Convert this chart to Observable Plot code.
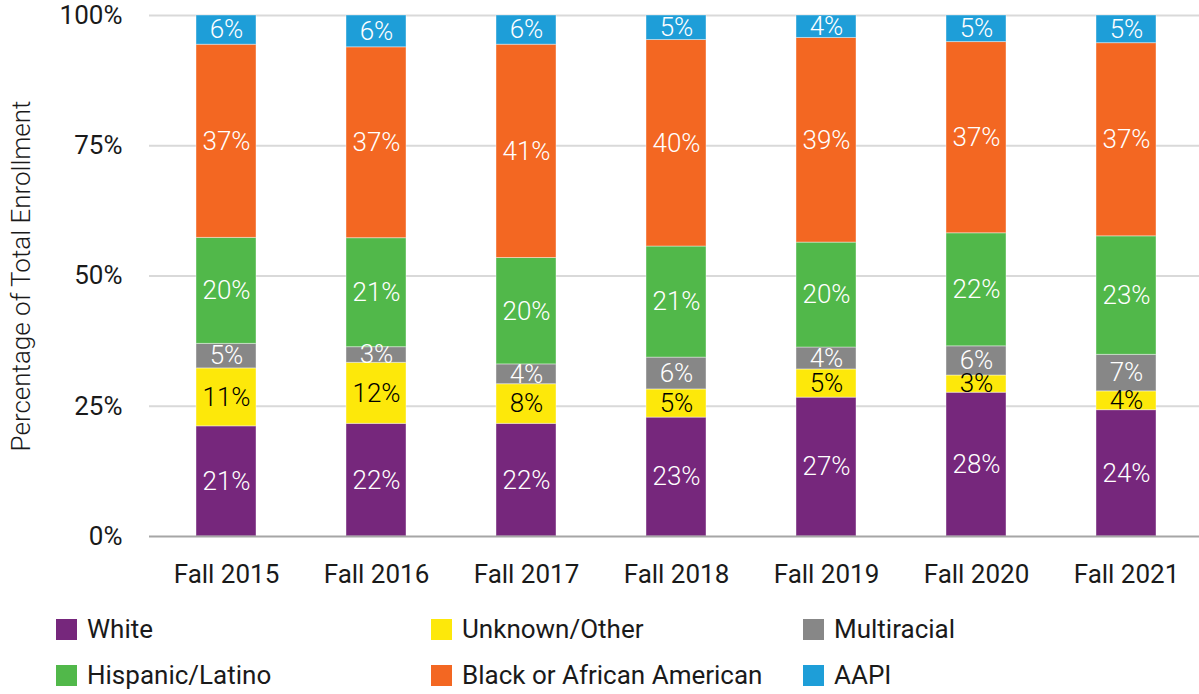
<!DOCTYPE html>
<html><head><meta charset="utf-8">
<script src="https://cdn.jsdelivr.net/npm/d3@7"></script>
<script src="https://cdn.jsdelivr.net/npm/@observablehq/plot@0.6"></script>
<style>
body{margin:0;background:#fff;font-family:Roboto,sans-serif;overflow:hidden}
#legend{display:grid;grid-template-columns:375px 372px 300px;grid-auto-rows:46px;padding-left:56px;padding-top:6px;}
.item{display:flex;align-items:center;font-size:26px;font-weight:400;color:#1a1a1a;white-space:nowrap}
.sw{width:21px;height:21px;margin-right:10px;flex:none}
</style></head><body>
<div id="chart"></div><div id="legend"></div>
<script>
const years = ["Fall 2015","Fall 2016","Fall 2017","Fall 2018","Fall 2019","Fall 2020","Fall 2021"];
const races = ["White","Unknown/Other","Multiracial","Hispanic/Latino","Black or African American","AAPI"];
const colors = ["#76277c","#fde80a","#878787","#51b84a","#f36722","#1e9ed8"];
const white    = [21.1, 21.6, 21.6, 22.8, 26.6, 27.6, 24.2];
const unknown  = [11.1, 11.7, 7.6, 5.4, 5.4, 3.3, 3.6];
const multi    = [4.7, 3.0, 3.8, 6.1, 4.2, 5.6, 7.0];
const hispanic = [20.3, 20.9, 20.4, 21.3, 20.1, 21.7, 22.7];
const black    = [37.0, 36.6, 40.9, 39.6, 39.2, 36.7, 37.0];
const aapi     = [5.6, 6.1, 5.6, 4.7, 4.3, 5.1, 5.3];
const yTicks = [0, 0.25, 0.5, 0.75, 1];
const yLabel = "Percentage of Total Enrollment";

const series = [white, unknown, multi, hispanic, black, aapi];
const data = [];
years.forEach((yr, i) => races.forEach((r, j) => data.push({year: yr, race: r, value: series[j][i]})));

const chart = Plot.plot({
  width: 1199, height: 600,
  marginTop: 15, marginBottom: 64, marginLeft: 149, marginRight: -4,
  style: {fontFamily: "Roboto, sans-serif", fontSize: "26px", color: "#1a1a1a", background: "white"},
  x: {domain: years, paddingInner: 0.6, paddingOuter: 0.3, label: null},
  y: {domain: [0, 1], label: null},
  color: {domain: races, range: colors},
  marks: [
    Plot.ruleY(yTicks.slice(1), {stroke: "#d9d9d9", strokeWidth: 2}),
    Plot.barY(data, Plot.stackY({x: "year", y: "value", z: "race", fill: "race", offset: "normalize", order: races,
      stroke: "white", strokeOpacity: 0.4, strokeWidth: 1})),
    Plot.ruleY([0], {stroke: "#a6a6a6", strokeWidth: 2}),
    Plot.text(data, Plot.stackY({x: "year", y: "value", z: "race", offset: "normalize", order: races,
      text: d => Math.round(d.value) + "%",
      fill: d => d.race === "Unknown/Other" ? "black" : "white", fontSize: 26, fontWeight: 300})),
    Plot.axisX({tickSize: 0, tickPadding: 28, fontSize: 26, label: null}),
    Plot.axisY({ticks: yTicks, tickFormat: d3.format(".0%"), tickSize: 0, tickPadding: 27, fontSize: 26, label: null}),
    Plot.text([yLabel], {frameAnchor: "left", textAnchor: "middle", lineAnchor: "middle", rotate: -90, dx: -128,
      fontSize: 26, fontWeight: 300, text: d => d, fill: "#1a1a1a"})
  ]
});
document.getElementById("chart").appendChild(chart);

const legend = document.getElementById("legend");
races.forEach((r, i) => {
  const it = document.createElement("div");
  it.className = "item";
  const sw = document.createElement("span");
  sw.className = "sw";
  sw.style.background = colors[i];
  it.appendChild(sw);
  it.appendChild(document.createTextNode(r));
  legend.appendChild(it);
});
</script>
</body></html>
